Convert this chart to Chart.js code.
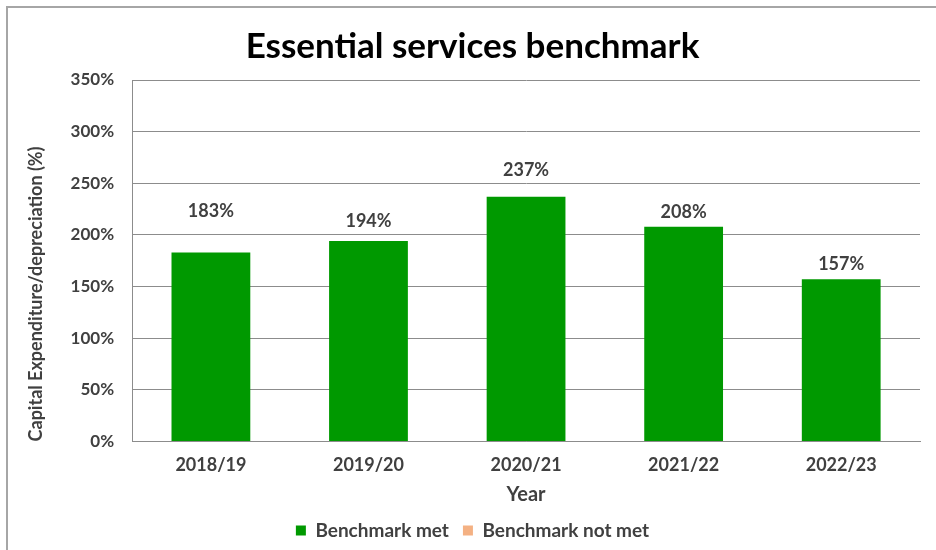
<!DOCTYPE html>
<html>
<head>
<meta charset="utf-8">
<title>Essential services benchmark</title>
<script src="https://cdn.jsdelivr.net/npm/chart.js@4.4.1/dist/chart.umd.min.js"></script>
<style>
  html, body { margin: 0; padding: 0; background: #fff; }
  #wrap { position: relative; width: 936px; height: 550px; }
</style>
</head>
<body>
<div id="wrap"><canvas id="benchChart" width="936" height="550"></canvas></div>
<script>
const years = ["2018/19", "2019/20", "2020/21", "2021/22", "2022/23"];
const benchmarkMet = [183, 194, 237, 208, 157];
const benchmarkNotMet = [null, null, null, null, null];
const yTicks = [0, 50, 100, 150, 200, 250, 300, 350];

// how far each value label sits above its bar (px)
const labelLift = [41, 20, 26, 14, 15];

const FONT = "Lato, 'Open Sans', sans-serif";
const GREEN = "#009900";
const ORANGE = "#F4B183";
const TEXT = "#404040";

// grey frame along the top and left edge
const framePlugin = {
  id: "frame",
  beforeDraw(chart) {
    const ctx = chart.ctx;
    ctx.save();
    ctx.fillStyle = "#fff";
    ctx.fillRect(0, 0, chart.width, chart.height);
    ctx.strokeStyle = "#a6a6a6";
    ctx.lineWidth = 2;
    ctx.beginPath();
    ctx.moveTo(7, chart.height);
    ctx.lineTo(7, 7);
    ctx.lineTo(chart.width, 7);
    ctx.stroke();
    ctx.restore();
  }
};

// percentage labels above the bars
const valueLabels = {
  id: "valueLabels",
  afterDatasetsDraw(chart) {
    const ctx = chart.ctx;
    const meta = chart.getDatasetMeta(0);
    ctx.save();
    ctx.font = "bold 18px " + FONT;
    ctx.fillStyle = TEXT;
    ctx.textAlign = "center";
    ctx.textBaseline = "middle";
    meta.data.forEach((bar, i) => {
      const v = chart.data.datasets[0].data[i];
      if (v == null) return;
      ctx.fillText(v + "%", bar.x, bar.y - labelLift[i]);
    });
    ctx.restore();
  }
};

const ctx = document.getElementById("benchChart").getContext("2d");
new Chart(ctx, {
  type: "bar",
  data: {
    labels: years,
    datasets: [
      {
        label: "Benchmark met",
        data: benchmarkMet,
        backgroundColor: GREEN,
        grouped: false,
        categoryPercentage: 1,
        barPercentage: 0.5
      },
      {
        label: "Benchmark not met",
        data: benchmarkNotMet,
        backgroundColor: ORANGE,
        grouped: false,
        categoryPercentage: 1,
        barPercentage: 0.5
      }
    ]
  },
  options: {
    responsive: false,
    animation: false,
    layout: { padding: { left: 25, right: 16, top: 12, bottom: 0 } },
    plugins: {
      title: {
        display: true,
        text: "Essential services benchmark",
        color: "#000",
        font: { family: FONT, size: 35, weight: "bold" },
        padding: { top: 14, bottom: 12 }
      },
      legend: {
        position: "bottom",
        labels: {
          color: TEXT,
          boxWidth: 10,
          boxHeight: 10,
          padding: 14,
          font: { family: FONT, size: 19, weight: "bold" }
        }
      },
      tooltip: { enabled: false }
    },
    scales: {
      x: {
        grid: { display: false },
        border: { display: true, color: "#8c8c8c", width: 1 },
        ticks: { color: TEXT, padding: 5, font: { family: FONT, size: 18, weight: "bold" } },
        title: {
          display: true,
          text: "Year",
          color: TEXT,
          padding: { top: 2, bottom: 0 },
          font: { family: FONT, size: 20, weight: "bold" }
        }
      },
      y: {
        min: 0,
        max: 350,
        afterBuildTicks(axis) { axis.ticks = yTicks.map(v => ({ value: v })); },
        grid: { color: "#8c8c8c", lineWidth: 1, drawTicks: false },
        border: { display: true, color: "#8c8c8c", width: 1 },
        ticks: {
          color: TEXT,
          padding: 18,
          font: { family: FONT, size: 17, weight: "bold" },
          callback: v => v + "%"
        },
        title: {
          display: true,
          text: "Capital Expenditure/depreciation (%)",
          align: "start",
          color: TEXT,
          padding: { top: 0, bottom: 6 },
          font: { family: FONT, size: 18, weight: "bold" }
        }
      }
    }
  },
  plugins: [framePlugin, valueLabels]
});
</script>
</body>
</html>
